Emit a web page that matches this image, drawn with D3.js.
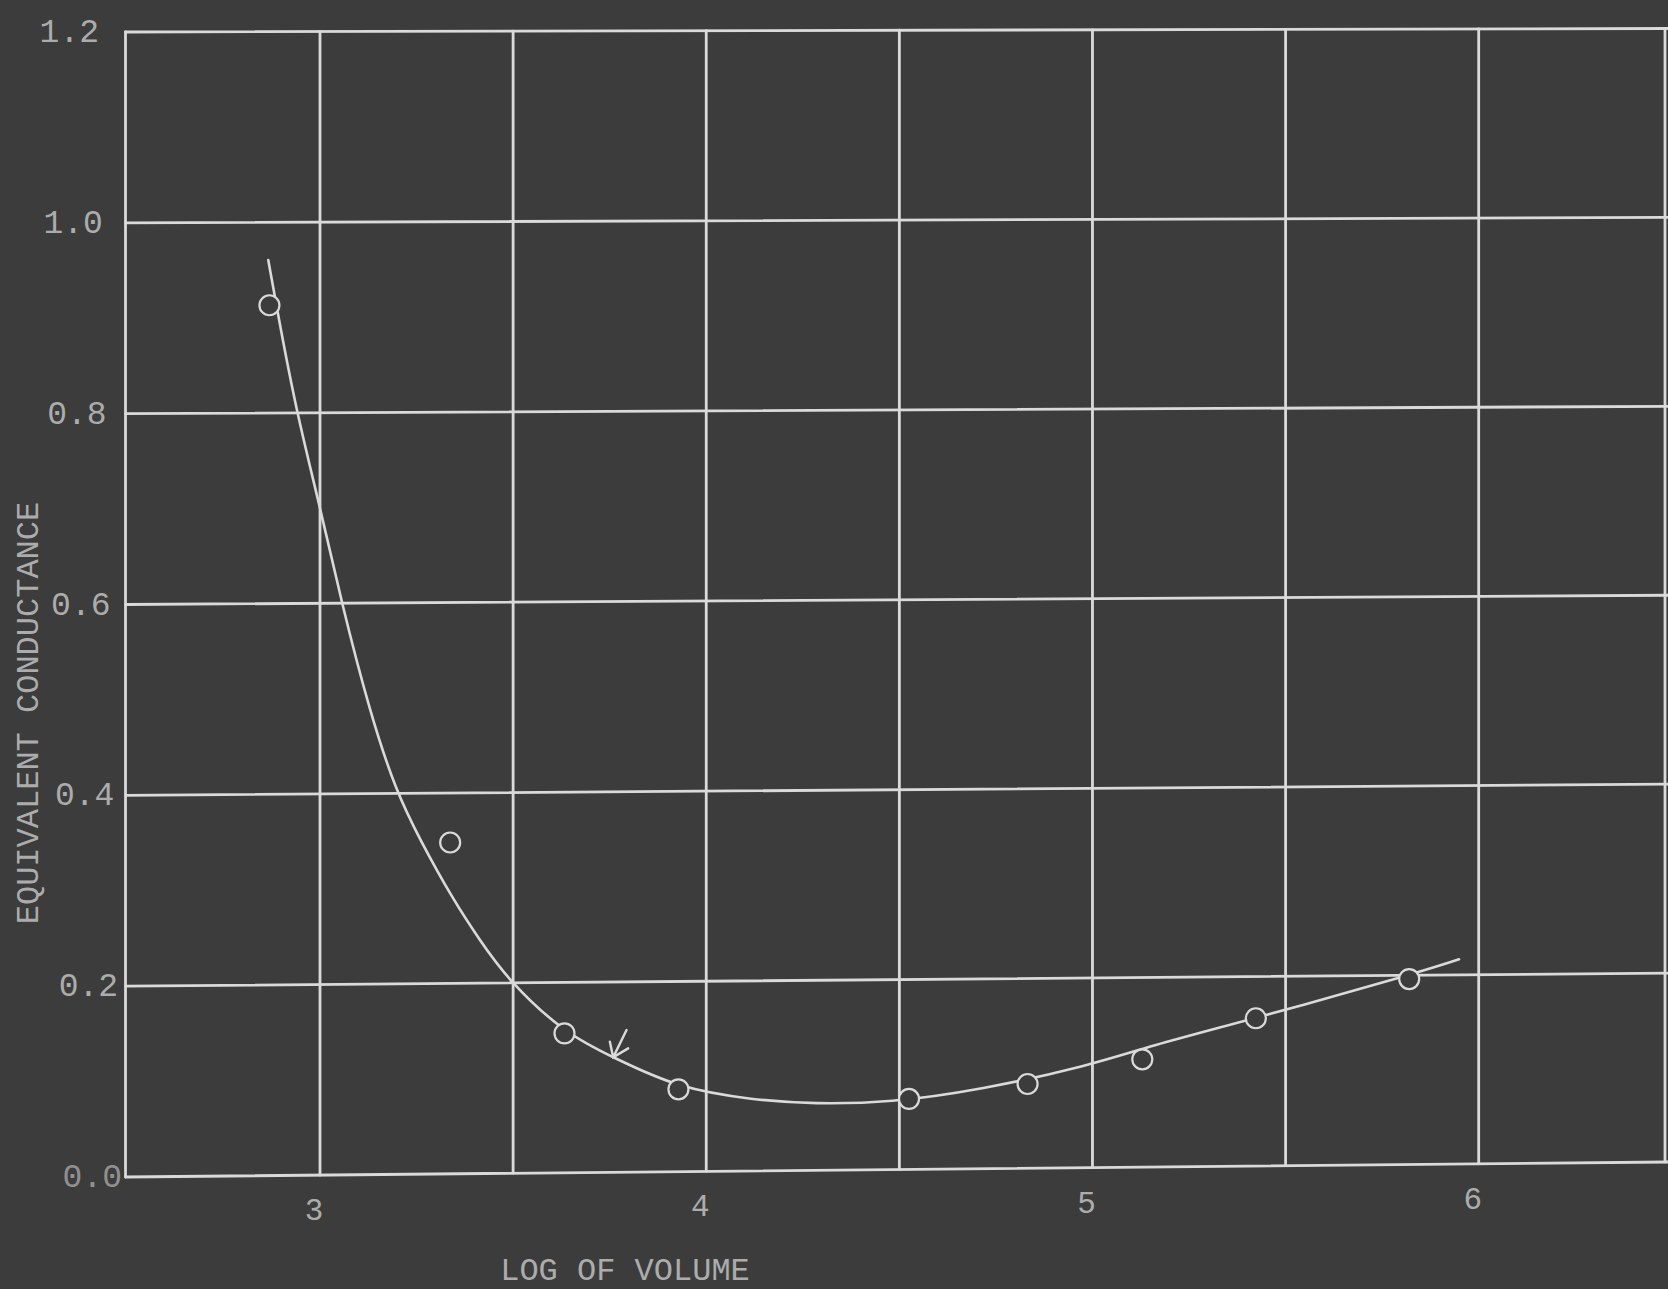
<!DOCTYPE html>
<html><head><meta charset="utf-8">
<script src="https://cdn.jsdelivr.net/npm/d3@7"></script>
<style>html,body{margin:0;padding:0;background:#3c3c3c;overflow:hidden}</style>
</head><body>
<svg id="chart" width="1668" height="1289"></svg>
<script>
// ---- data ----
const xGrid = [2.5, 3, 3.5, 4, 4.5, 5, 5.5, 6, 6.5];
const xTicks = [3, 4, 5, 6];
const xTickLabels = ["3", "4", "5", "6"];
const yTicks = [0, 0.2, 0.4, 0.6, 0.8, 1.0, 1.2];
const yTickLabels = ["0.0", "0.2", "0.4", "0.6", "0.8", "1.0", "1.2"];
const logVolume   = [2.870, 3.337, 3.633, 3.928, 4.525, 4.832, 5.129, 5.423, 5.820];
const conductance = [0.913, 0.348, 0.1465, 0.0866, 0.0742, 0.0888, 0.1137, 0.156, 0.196];
const curveX = [2.867, 2.893, 2.940, 3.002, 3.056, 3.130, 3.197, 3.259, 3.345, 3.414, 3.487, 3.633, 3.759, 3.928, 4.122, 4.278, 4.476, 4.709, 4.993, 5.142, 5.423, 5.820, 5.949];
const curveY = [0.9605, 0.901, 0.800, 0.698, 0.600, 0.484, 0.402, 0.351, 0.2876, 0.245, 0.203, 0.1465, 0.1208, 0.0876, 0.0746, 0.0698, 0.0705, 0.083, 0.1076, 0.127, 0.156, 0.200, 0.2164];
const arrowAt = [3.759, 0.1208];
const xTitle = "LOG OF VOLUME";
const yTitle = "EQUIVALENT CONDUCTANCE";

// ---- scales (hand-drawn sheet: columns not quite even, rows slightly tilted) ----
const x = d3.scaleLinear().domain([2.5, 3, 6, 6.5]).range([125.5, 320, 1478.7, 1665]);
const yLeft = d3.scaleLinear().domain([0, 1.2]).range([1177, 32]);
const yRight = d3.scaleLinear().domain([0, 1.2]).range([1162, 28.5]);
const tilt = d3.scaleLinear().domain([125.5, 1665]).range([0, 1]);
function P(xv, yv) {
  const px = x(xv), t = tilt(px);
  return [px, yLeft(yv) * (1 - t) + yRight(yv) * t];
}
const labelRight = d3.scaleLinear().domain([0, 1.2]).range([122, 99]);

const INK = "#dadada";
const TXT = "#acacac";
const BG = "#3c3c3c";
const FONT = "'Liberation Mono', 'Courier New', monospace";

const svg = d3.select("#chart");
svg.append("rect").attr("width", 1668).attr("height", 1289).attr("fill", BG);

const grid = svg.append("g").attr("stroke", INK).attr("stroke-width", 2.8).attr("stroke-linecap", "round");
grid.selectAll("line.h").data(yTicks).join("line").attr("class", "h")
  .attr("x1", d => P(2.5, d)[0]).attr("y1", d => P(2.5, d)[1])
  .attr("x2", d => P(6.5, d)[0] + 4).attr("y2", d => P(6.5, d)[1]);
grid.selectAll("line.v").data(xGrid).join("line").attr("class", "v")
  .attr("x1", d => P(d, 0)[0]).attr("y1", d => P(d, 0)[1])
  .attr("x2", d => P(d, 1.2)[0]).attr("y2", d => P(d, 1.2)[1]);

// y tick labels
svg.append("g").attr("font-family", FONT).attr("font-size", 33).attr("fill", TXT)
  .selectAll("text").data(yTicks).join("text")
  .attr("text-anchor", "end")
  .attr("x", d => labelRight(d))
  .attr("y", d => P(2.5, d)[1] + 10)
  .attr("opacity", (d, i) => i === 0 ? 0.75 : 1)
  .text((d, i) => yTickLabels[i]);

// x tick labels
svg.append("g").attr("font-family", FONT).attr("font-size", 31).attr("fill", TXT)
  .selectAll("text").data(xTicks).join("text")
  .attr("text-anchor", "middle")
  .attr("x", d => P(d, 0)[0] - 6)
  .attr("y", d => P(d, 0)[1] + 45)
  .text((d, i) => xTickLabels[i]);

// titles
svg.append("text").attr("font-family", FONT).attr("font-size", 32).attr("fill", TXT)
  .attr("text-anchor", "middle").attr("x", 625).attr("y", 1280).text(xTitle);
svg.append("text").attr("font-family", FONT).attr("font-size", 32).attr("fill", TXT)
  .attr("text-anchor", "middle").attr("transform", "translate(38,713) rotate(-90)").text(yTitle);

// fitted curve
const pts = curveX.map((d, i) => P(d, curveY[i]));
svg.append("path").attr("d", d3.line().curve(d3.curveBasis)(pts))
  .attr("fill", "none").attr("stroke", INK).attr("stroke-width", 2.6).attr("stroke-linecap", "round");

// arrow annotation
const tip = P(arrowAt[0], arrowAt[1]);
const ag = svg.append("g").attr("transform", `translate(${tip[0]},${tip[1]})`)
  .attr("stroke", INK).attr("stroke-width", 2.4).attr("fill", "none").attr("stroke-linecap", "round");
ag.append("path").attr("d", "M13.4,-27.3 L0,0 M-3.3,-15.6 L0,0 L15,-9");

// data points
svg.append("g").selectAll("circle").data(logVolume).join("circle")
  .attr("cx", d => P(d, 0)[0])
  .attr("cy", (d, i) => P(d, conductance[i])[1])
  .attr("r", 10)
  .attr("fill", BG).attr("stroke", INK).attr("stroke-width", 2.2);
</script>
</body></html>
